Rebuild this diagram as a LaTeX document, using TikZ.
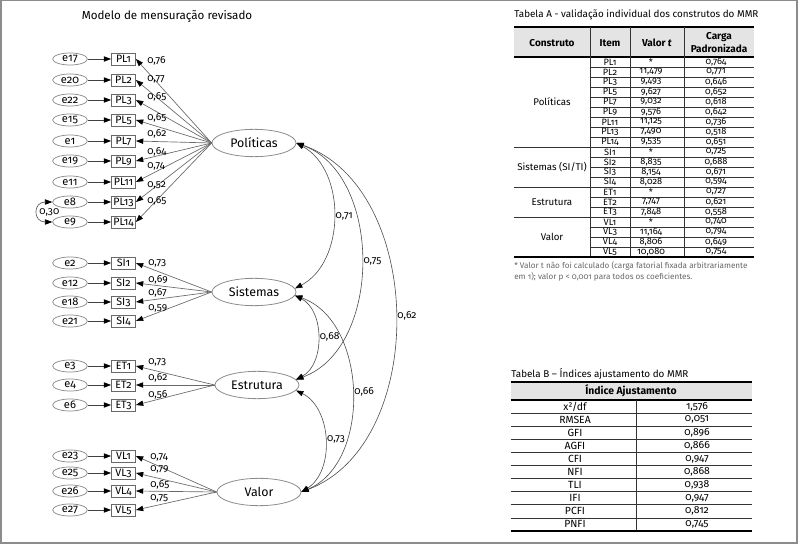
\documentclass[tikz,border=0pt]{standalone}
\usepackage{fontspec}
\setmainfont{Fira Sans}[Numbers=OldStyle]
\usetikzlibrary{positioning,arrows.meta,shapes.geometric}
\definecolor{LineGray}{RGB}{105,105,105}
\definecolor{FrameGray}{RGB}{140,140,140}
\definecolor{HeadGray}{RGB}{228,228,228}
\newcommand{\txtsize}[1]{\fontsize{#1}{#1}\selectfont}
\tikzset{
	semtip/.tip={Triangle[length=5.5pt,width=4pt,color=black]},
	err/.style={ellipse,draw=FrameGray,line width=0.55pt,minimum width=26pt,minimum height=9pt,inner sep=0pt,font=\txtsize{8.3}},
	ind/.style={rectangle,draw=LineGray,line width=0.6pt,minimum width=18pt,minimum height=9pt,inner sep=0.8pt,font=\txtsize{8}},
	lat/.style={ellipse,draw=FrameGray,line width=0.6pt,minimum width=63pt,minimum height=20.5pt,inner sep=0pt,font=\txtsize{9.3}},
	errarr/.style={draw=black!75,line width=0.55pt,-semtip},
	loading/.style={draw=LineGray,line width=0.5pt,-semtip},
	cov/.style={draw=black!70,line width=0.45pt,semtip-semtip},
	lbl/.style={anchor=west,inner sep=0pt,font=\txtsize{7.7}},
	clbl/.style={right,inner sep=1.5pt,font=\txtsize{7.7}},
	ttl/.style={anchor=west,inner sep=0pt,font=\txtsize{7.4}},
	cell/.style={inner sep=0pt,font=\txtsize{6.9}},
	head/.style={inner sep=0pt,align=center,font=\txtsize{7.5}\bfseries},
	rule/.style={draw=black!80,line width=0.5pt},
	rulethick/.style={draw=black,line width=1.2pt},
}
\begin{document}
\begin{tikzpicture}[x=0.75pt,y=-0.75pt]
	\useasboundingbox (0,0) rectangle (800,545);
	\draw[FrameGray,line width=1.2pt] (1,0.7) rectangle (797,543);
	\node[font=\txtsize{8.7}] (title) at (167,16) {Modelo de mensuração revisado};
	% construtos
	\node[lat] (pol) at (254,143) {Políticas};
	\node[lat] (sis) at (254,292) {Sistemas};
	\node[lat] (est) at (257,385) {Estrutura};
	\node[lat] (val) at (259,492) {Valor};
	% indicadores
	\foreach \e/\i/\y/\ly/\w in {e17/PL1/59/61/{0,76},e20/PL2/80/79/{0,77},e22/PL3/100/97/{0,65},
		e15/PL5/120/118/{0,65},e1/PL7/141/134/{0,62},e19/PL9/161/152/{0,64},
		e11/PL11/182/166/{0,74},e8/PL13/202/185/{0,52},e9/PL14/222/201/{0,65}}{
		\node[err] (\e) at (70,\y) {\e};
		\node[ind] (\i) at (123.5,\y) {\i};
		\draw[errarr] (\e) -- (\i);
		\draw[loading] (pol.west) -- (\i.east);
		\node[lbl] at (147,\ly) {\w};
	}
	\foreach \e/\i/\y/\ly/\w in {e2/SI1/263/263/{0,73},e12/SI2/283/280/{0,69},
		e18/SI3/302/293/{0,67},e21/SI4/321/308/{0,59}}{
		\node[err] (\e) at (70,\y) {\e};
		\node[ind] (\i) at (123.5,\y) {\i};
		\draw[errarr] (\e) -- (\i);
		\draw[loading] (sis.west) -- (\i.east);
		\node[lbl] at (148,\ly) {\w};
	}
	\foreach \e/\i/\y/\ly/\w in {e3/ET1/366/362/{0,73},e4/ET2/385/378/{0,62},e6/ET3/405/395/{0,56}}{
		\node[err] (\e) at (70,\y) {\e};
		\node[ind] (\i) at (123.5,\y) {\i};
		\draw[errarr] (\e) -- (\i);
		\draw[loading] (est.west) -- (\i.east);
		\node[lbl] at (148,\ly) {\w};
	}
	\foreach \e/\i/\y/\ly/\w in {e23/VL1/456/457/{0,74},e25/VL3/473/469/{0,79},
		e26/VL4/491/485/{0,65},e27/VL5/510/498/{0,75}}{
		\node[err] (\e) at (70,\y) {\e};
		\node[ind] (\i) at (123.5,\y) {\i};
		\draw[errarr] (\e) -- (\i);
		\draw[loading] (val.west) -- (\i.east);
		\node[lbl] at (150,\ly) {\w};
	}
	\draw[cov] (e8.west) to[out=180,in=180,looseness=2.5] node[clbl,inner sep=1pt]{0,30} (e9.west);
	% correlacoes
	\draw[cov] (pol.east) to[bend left=62] node[clbl]{0,71} (sis.5);
	\draw[cov] (pol.east) to[bend left=70] node[clbl]{0,75} (est.8);
	\draw[cov] (pol.east) to[bend left=70] node[clbl]{0,62} (val.east);
	\draw[cov] (sis.-5) to[bend left=63] node[clbl]{0,68} (est.8);
	\draw[cov] (sis.-5) to[bend left=69] node[clbl]{0,66} (val.east);
	\draw[cov] (est.-8) to[bend left=61] node[clbl]{0,73} (val.east);
	% Tabela A
	\node[ttl] (ttlA) at (514,15) {Tabela A - validação individual dos construtos do MMR};
	\fill[HeadGray] (514,27) rectangle (754,57);
	\draw[rulethick] (514,27) -- (754,27);
	\draw[rulethick] (514,57) -- (754,57);
	\foreach \c in {590.7,630,684}
	\draw[rule] (\c,27) -- (\c,257);
	\node[head] at (552,43) {Construto};
	\node[head] at (610,43) {Item};
	\node[head] at (657,43) {Valor \textit{t}};
	\node[head] at (719,43) {Carga\\[1pt]Padronizada};
	\foreach \itm/\tval/\carga [count=\r from 0] in {PL1/*/{0,764},PL2/{11,479}/{0,771},PL3/{9,493}/{0,646},
		PL5/{9,627}/{0,652},PL7/{9,032}/{0,618},PL9/{9,576}/{0,642},PL11/{11,125}/{0,736},
		PL13/{7,490}/{0,518},PL14/{9,535}/{0,651},SI1/*/{0,725},SI2/{8,835}/{0,688},
		SI3/{8,154}/{0,671},SI4/{8,028}/{0,594},ET1/*/{0,727},ET2/{7,747}/{0,621},
		ET3/{7,848}/{0,558},VL1/*/{0,740},VL3/{11,164}/{0,794},VL4/{8,806}/{0,649},
		VL5/{10,080}/{0,754}}{
		\node[cell] at (610,{62+10*\r}) {\itm};
		\node[cell] at (651,{62+10*\r}) {\tval};
		\node[cell] at (716,{62+10*\r}) {\carga};
		\draw[rule] (590.7,{67+10*\r}) -- (754,{67+10*\r});
	}
	\foreach \y in {147,187,217}
	\draw[rule] (514,\y) -- (754,\y);
	\draw[rulethick] (514,257) -- (754,257);
	\node[cell,font=\txtsize{7.3}] at (552,102) {Políticas};
	\node[cell,font=\txtsize{7.3}] at (552,167) {Sistemas (SI/TI)};
	\node[cell,font=\txtsize{7.3}] at (552,202) {Estrutura};
	\node[cell,font=\txtsize{7.3}] at (552,237) {Valor};
	\node[ttl,font=\txtsize{6.1},text=black!60] at (514,266) {* Valor t não foi calculado (carga fatorial fixada arbitrariamente};
	\node[ttl,font=\txtsize{6.1},text=black!60] at (514,277) {em 1); valor p < 0,001 para todos os coeficientes.};
	% Tabela B
	\node[ttl] (ttlB) at (511,374) {Tabela B – Índices ajustamento do MMR};
	\fill[HeadGray] (510.7,382) rectangle (752,400);
	\draw[rulethick] (510.7,382) -- (752,382);
	\node[head,font=\txtsize{7.8}\bfseries] at (631,391) {Índice Ajustamento};
	\draw[rulethick] (510.7,400) -- (752,400);
	\draw[rule] (636,400) -- (636,531);
	\foreach \ix/\vl [count=\r from 0] in {{x²/df}/{1,576},RMSEA/{0,051},GFI/{0,896},AGFI/{0,866},
		CFI/{0,947},NFI/{0,868},TLI/{0,938},IFI/{0,947},PCFI/{0,812},PNFI/{0,745}}{
		\node[cell,font=\txtsize{7.8}] at (575,{406.5+13.1*\r}) {\ix};
		\node[cell,font=\txtsize{7.8}] at (697,{406.5+13.1*\r}) {\vl};
		\draw[rule] (510.7,{400+13.1*(\r+1)}) -- (752,{400+13.1*(\r+1)});
	}
	\draw[rulethick] (510.7,531) -- (752,531);
\end{tikzpicture}
\end{document}
